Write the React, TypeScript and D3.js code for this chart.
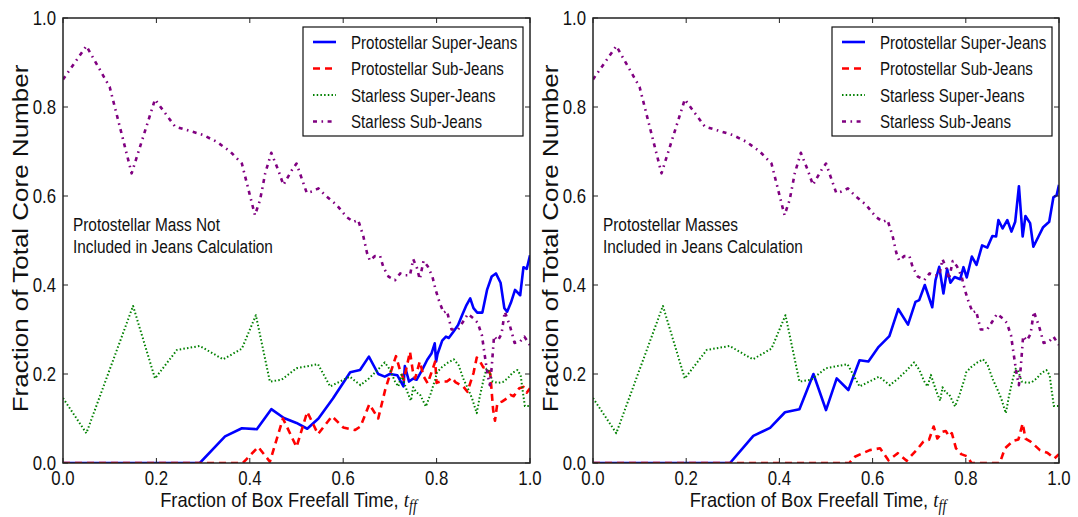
import React from "react";
import * as d3 from "d3";

// ---- data: [fraction of freefall time, fraction of total core number] ----
const leftProtoSuper: [number, number][] = [
  [0, 0], [0.293, 0], [0.347, 0.06], [0.383, 0.078], [0.415, 0.076], [0.446, 0.121], [0.473, 0.101], [0.5, 0.09],
  [0.523, 0.077], [0.547, 0.1], [0.578, 0.145], [0.615, 0.204], [0.636, 0.209], [0.655, 0.239], [0.675, 0.2],
  [0.689, 0.194], [0.7, 0.2], [0.716, 0.197], [0.729, 0.172], [0.732, 0.218], [0.741, 0.183], [0.75, 0.19],
  [0.757, 0.187], [0.768, 0.207], [0.78, 0.232], [0.789, 0.246], [0.796, 0.269], [0.799, 0.228], [0.802, 0.245],
  [0.812, 0.275], [0.82, 0.284], [0.826, 0.281], [0.836, 0.295], [0.846, 0.31], [0.855, 0.333], [0.864, 0.355],
  [0.872, 0.37], [0.879, 0.348], [0.887, 0.338], [0.898, 0.338], [0.908, 0.389], [0.918, 0.419], [0.927, 0.426],
  [0.937, 0.405], [0.945, 0.348], [0.951, 0.34], [0.959, 0.36], [0.968, 0.389], [0.979, 0.377], [0.986, 0.44],
  [0.993, 0.436], [1.0, 0.467],
];
const leftProtoSub: [number, number][] = [
  [0, 0], [0.385, 0], [0.418, 0.036], [0.443, 0.003], [0.471, 0.1], [0.5, 0.036], [0.523, 0.115], [0.546, 0.065],
  [0.576, 0.105], [0.6, 0.08], [0.625, 0.074], [0.637, 0.082], [0.656, 0.132], [0.675, 0.1], [0.69, 0.165],
  [0.702, 0.205], [0.713, 0.24], [0.722, 0.207], [0.73, 0.187], [0.743, 0.25], [0.749, 0.207], [0.754, 0.19],
  [0.764, 0.228], [0.772, 0.195], [0.781, 0.179], [0.797, 0.228], [0.8, 0.18], [0.808, 0.183], [0.822, 0.183],
  [0.833, 0.192], [0.84, 0.182], [0.857, 0.172], [0.866, 0.16], [0.879, 0.202], [0.886, 0.237], [0.893, 0.228],
  [0.9, 0.215], [0.908, 0.213], [0.915, 0.2], [0.921, 0.12], [0.925, 0.095], [0.93, 0.134], [0.94, 0.138],
  [0.95, 0.145], [0.958, 0.153], [0.965, 0.15], [0.977, 0.168], [0.986, 0.171], [0.993, 0.158], [1.0, 0.168],
];
const rightProtoSuper: [number, number][] = [
  [0, 0], [0.294, 0], [0.344, 0.061], [0.38, 0.079], [0.412, 0.114], [0.443, 0.121], [0.473, 0.2], [0.5, 0.119],
  [0.523, 0.19], [0.548, 0.164], [0.572, 0.231], [0.591, 0.228], [0.613, 0.261], [0.636, 0.285], [0.655, 0.346],
  [0.676, 0.311], [0.692, 0.362], [0.7, 0.366], [0.712, 0.4], [0.728, 0.35], [0.735, 0.411], [0.743, 0.441],
  [0.752, 0.381], [0.76, 0.436], [0.767, 0.405], [0.776, 0.418], [0.788, 0.413], [0.795, 0.44], [0.802, 0.417],
  [0.813, 0.464], [0.823, 0.445], [0.835, 0.489], [0.846, 0.484], [0.857, 0.51], [0.865, 0.509], [0.87, 0.546],
  [0.879, 0.527], [0.889, 0.546], [0.898, 0.52], [0.906, 0.542], [0.914, 0.622], [0.922, 0.509], [0.928, 0.555],
  [0.938, 0.539], [0.945, 0.486], [0.956, 0.509], [0.966, 0.53], [0.979, 0.542], [0.988, 0.597], [0.995, 0.602],
  [1.0, 0.625],
];
const rightProtoSub: [number, number][] = [
  [0, 0], [0.55, 0], [0.562, 0.014], [0.594, 0.029], [0.616, 0.033], [0.634, 0.006], [0.654, 0.022], [0.673, 0.005],
  [0.695, 0.03], [0.709, 0.048], [0.721, 0.052], [0.731, 0.082], [0.739, 0.055], [0.75, 0.07], [0.757, 0.072],
  [0.764, 0.06], [0.77, 0.067], [0.779, 0.033], [0.79, 0.02], [0.803, 0.015], [0.812, 0], [0.873, 0], [0.884, 0.033],
  [0.902, 0.05], [0.913, 0.053], [0.922, 0.089], [0.928, 0.055], [0.939, 0.048], [0.959, 0.029], [0.975, 0.023],
  [0.99, 0.01], [1.0, 0.02],
];
const starlessSuper: [number, number][] = [
  [0, 0.146], [0.05, 0.067], [0.15, 0.353], [0.197, 0.19], [0.244, 0.254], [0.293, 0.263], [0.343, 0.233],
  [0.383, 0.257], [0.413, 0.332], [0.443, 0.183], [0.468, 0.187], [0.5, 0.213], [0.546, 0.222], [0.572, 0.172],
  [0.593, 0.183], [0.614, 0.194], [0.637, 0.175], [0.655, 0.19], [0.672, 0.207], [0.689, 0.226], [0.7, 0.21],
  [0.711, 0.183], [0.718, 0.172], [0.725, 0.198], [0.732, 0.176], [0.739, 0.155], [0.745, 0.14], [0.75, 0.17],
  [0.757, 0.158], [0.764, 0.155], [0.777, 0.127], [0.787, 0.155], [0.797, 0.188], [0.801, 0.204], [0.812, 0.216],
  [0.825, 0.226], [0.837, 0.233], [0.847, 0.22], [0.857, 0.19], [0.868, 0.165], [0.876, 0.145], [0.882, 0.125],
  [0.886, 0.112], [0.892, 0.147], [0.9, 0.185], [0.907, 0.212], [0.913, 0.205], [0.92, 0.183], [0.932, 0.18],
  [0.942, 0.182], [0.952, 0.19], [0.963, 0.203], [0.973, 0.209], [0.98, 0.197], [0.984, 0.165], [0.989, 0.128],
  [1.0, 0.128],
];
const starlessSub: [number, number][] = [
  [0, 0.862], [0.05, 0.937], [0.1, 0.845], [0.147, 0.651], [0.197, 0.817], [0.24, 0.756], [0.272, 0.746],
  [0.3, 0.737], [0.329, 0.722], [0.358, 0.7], [0.383, 0.673], [0.411, 0.557], [0.422, 0.591], [0.433, 0.651],
  [0.446, 0.697], [0.461, 0.658], [0.472, 0.625], [0.49, 0.658], [0.5, 0.673], [0.515, 0.628], [0.522, 0.607],
  [0.533, 0.61], [0.547, 0.617], [0.561, 0.602], [0.586, 0.58], [0.607, 0.553], [0.622, 0.542], [0.632, 0.546],
  [0.643, 0.51], [0.651, 0.472], [0.657, 0.455], [0.668, 0.465], [0.679, 0.465], [0.686, 0.44], [0.697, 0.419],
  [0.711, 0.411], [0.722, 0.426], [0.733, 0.422], [0.743, 0.422], [0.75, 0.458], [0.758, 0.438], [0.764, 0.413],
  [0.772, 0.454], [0.781, 0.442], [0.791, 0.419], [0.798, 0.389], [0.806, 0.362], [0.815, 0.338], [0.822, 0.342],
  [0.832, 0.3], [0.846, 0.3], [0.857, 0.318], [0.867, 0.335], [0.879, 0.325], [0.888, 0.315], [0.897, 0.287],
  [0.902, 0.25], [0.909, 0.2], [0.914, 0.175], [0.918, 0.215], [0.923, 0.285], [0.931, 0.275], [0.939, 0.29],
  [0.946, 0.34], [0.957, 0.308], [0.967, 0.27], [0.978, 0.272], [0.988, 0.284], [1.0, 0.265],
];

const seriesNames = ["Protostellar Super-Jeans", "Protostellar Sub-Jeans", "Starless Super-Jeans", "Starless Sub-Jeans"];
const tickValues = [0, 0.2, 0.4, 0.6, 0.8, 1.0];
const tickLabels = ["0.0", "0.2", "0.4", "0.6", "0.8", "1.0"];
const yAxisTitle = "Fraction of Total Core Number";
const xAxisTitle = "Fraction of Box Freefall Time, ";
const leftNote = ["Protostellar Mass Not", "Included in Jeans Calculation"];
const rightNote = ["Protostellar Masses", "Included in Jeans Calculation"];

const styles = [
  { color: "#0000ff", width: 2.6, dash: undefined as string | undefined },
  { color: "#ff0000", width: 2.6, dash: "7,5" },
  { color: "#008000", width: 2, dash: "1.5,2.2" },
  { color: "#800080", width: 2.6, dash: "4,4.5,1.6,4.5" },
];

const FONT = "'Liberation Sans', Arial, sans-serif";
const SERIF = "'Liberation Serif', 'DejaVu Serif', serif";
const SQ = 0.84; // horizontal squeeze of the text
const TOP = 18;
const BOTTOM = 463;

function SText({ x, y, size, anchor, sx = SQ, children }: { x: number; y: number; size: number; anchor?: string; sx?: number; children: React.ReactNode }) {
  return (
    <text transform={`translate(${x},${y}) scale(${sx},1)`} textAnchor={anchor || "start"} fontSize={size}
      fontFamily={FONT} fill="#111">{children}</text>
  );
}

function Panel({ id, x0, x1, data, note }: { id: string; x0: number; x1: number; data: [number, number][][]; note: string[] }) {
  const x = d3.scaleLinear().domain([0, 1]).range([x0, x1]);
  const y = d3.scaleLinear().domain([0, 1]).range([BOTTOM, TOP]);
  const line = d3.line<[number, number]>().x((d) => x(d[0])).y((d) => y(d[1]));
  const tickLen = 5;
  const legX = x1 - 227;
  const legY = 27;
  return (
    <g>
      <defs>
        <clipPath id={id}>
          <rect x={x0} y={TOP} width={x1 - x0} height={BOTTOM - TOP} />
        </clipPath>
      </defs>
      <g clipPath={`url(#${id})`}>
        {data.map((d, i) => (
          <path key={i} d={line(d) || ""} fill="none" stroke={styles[i].color} strokeWidth={styles[i].width}
            strokeDasharray={styles[i].dash} strokeLinejoin="round" />
        ))}
      </g>
      <rect x={x0} y={TOP} width={x1 - x0} height={BOTTOM - TOP} fill="none" stroke="#222" strokeWidth={1.5} />
      {tickValues.map((t, i) => (
        <g key={"t" + i}>
          <line x1={x(t)} x2={x(t)} y1={BOTTOM} y2={BOTTOM - tickLen} stroke="#222" strokeWidth={1} />
          <line x1={x(t)} x2={x(t)} y1={TOP} y2={TOP + tickLen} stroke="#222" strokeWidth={1} />
          <line x1={x0} x2={x0 + tickLen} y1={y(t)} y2={y(t)} stroke="#222" strokeWidth={1} />
          <line x1={x1} x2={x1 - tickLen} y1={y(t)} y2={y(t)} stroke="#222" strokeWidth={1} />
          <SText x={x(t)} y={485} size={20} anchor="middle">{tickLabels[i]}</SText>
          <SText x={x0 - 7} y={y(t) + 7} size={20} anchor="end">{tickLabels[i]}</SText>
        </g>
      ))}
      <text transform={`translate(${(x0 + x1) / 2 - 8},507) scale(0.87,1)`} textAnchor="middle" fontSize={21}
        fontFamily={FONT} fill="#111">
        {xAxisTitle}
        <tspan fontFamily={SERIF} fontStyle="italic" fontSize={22}>t</tspan>
        <tspan fontFamily={SERIF} fontStyle="italic" fontSize={16} dy={4}>ff</tspan>
      </text>
      <text transform={`translate(${x0 - 35},${(TOP + BOTTOM) / 2 - 2}) rotate(-90) scale(1,0.86)`} textAnchor="middle"
        fontSize={26} fontFamily={FONT} fill="#111">{yAxisTitle}</text>
      {note.map((s, i) => (
        <SText key={"n" + i} x={x0 + 10} y={231 + i * 22} size={19} sx={0.81}>{s}</SText>
      ))}
      <rect x={legX} y={legY} width={220} height={109} fill="#fff" stroke="#111" strokeWidth={1.2} />
      {seriesNames.map((name, i) => {
        const yy = legY + 15 + i * 26.5;
        return (
          <g key={"l" + i}>
            <line x1={legX + 10} x2={legX + 33} y1={yy} y2={yy} stroke={styles[i].color} strokeWidth={styles[i].width}
              strokeDasharray={styles[i].dash} />
            <SText x={legX + 48} y={yy + 6.5} size={18}>{name}</SText>
          </g>
        );
      })}
    </g>
  );
}

export default function App() {
  return (
    <svg width={1078} height={517} style={{ position: "absolute", left: 0, top: 0, background: "#fff" }}>
      <rect width={1078} height={517} fill="#fff" />
      <Panel id="clipL" x0={63} x1={530} data={[leftProtoSuper, leftProtoSub, starlessSuper, starlessSub]} note={leftNote} />
      <Panel id="clipR" x0={593} x1={1059} data={[rightProtoSuper, rightProtoSub, starlessSuper, starlessSub]} note={rightNote} />
    </svg>
  );
}
